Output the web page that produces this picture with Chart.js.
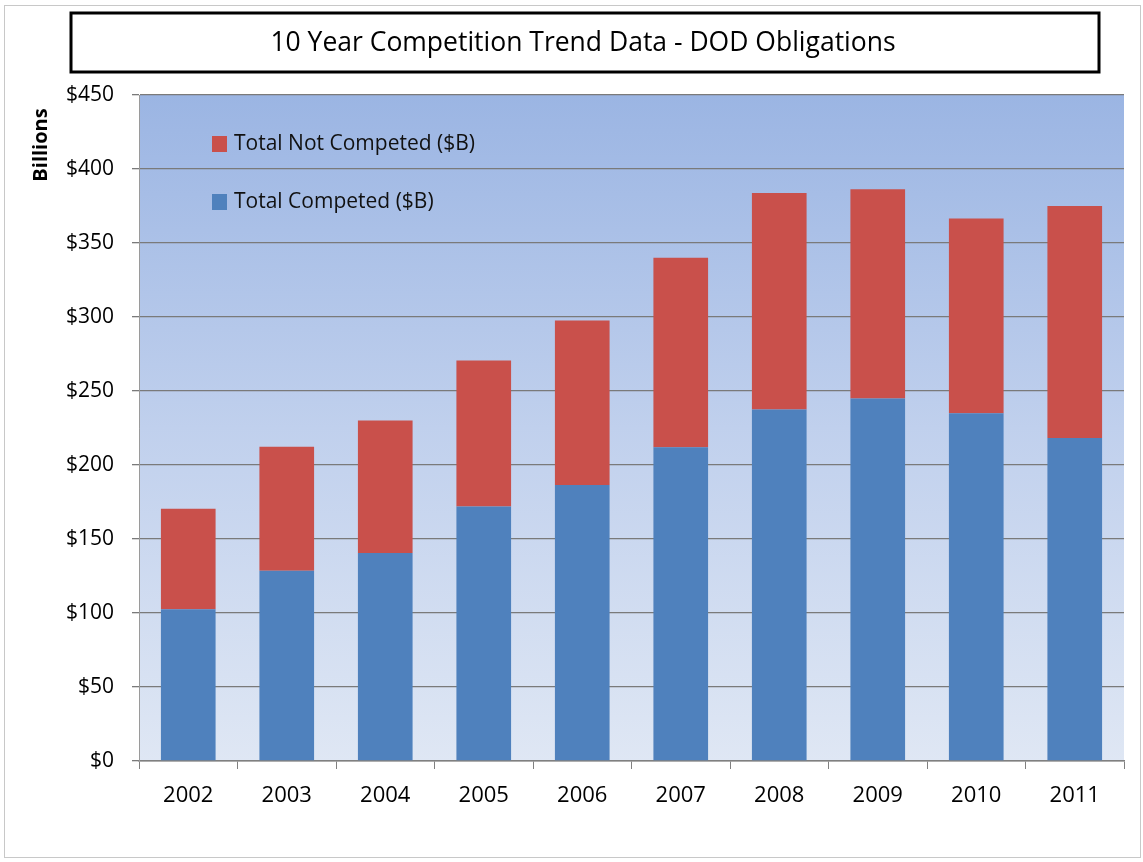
<!DOCTYPE html>
<html>
<head>
<meta charset="utf-8">
<script src="https://cdn.jsdelivr.net/npm/chart.js@4/dist/chart.umd.min.js"></script>
<style>
  html, body { margin: 0; padding: 0; background: #fff; }
  #wrap { width: 1143px; height: 862px; position: relative; }
</style>
</head>
<body>
<div id="wrap"><canvas id="c"></canvas></div>
<script>
const years = ['2002', '2003', '2004', '2005', '2006', '2007', '2008', '2009', '2010', '2011'];
const competed = [102.5, 128.6, 140.5, 172, 186.5, 212, 237.5, 245, 235, 218.3];
const notCompeted = [68, 83.8, 89.5, 98.6, 111.2, 128, 146.3, 141.3, 131.5, 156.7];
const yTicks = [0, 50, 100, 150, 200, 250, 300, 350, 400, 450];

const FONT = '"Open Sans", "Noto Sans", sans-serif';
const BLUE = '#4f81bd';
const RED = '#c9504b';

// background, outer frame and plot gradient
const backdrop = {
  id: 'backdrop',
  beforeDraw(chart) {
    const { ctx, chartArea: a, width, height } = chart;
    ctx.save();
    ctx.fillStyle = '#fff';
    ctx.fillRect(0, 0, width, height);
    ctx.strokeStyle = '#c8c8c8';
    ctx.lineWidth = 1;
    ctx.strokeRect(4.5, 5.5, width - 7, height - 10);
    const g = ctx.createLinearGradient(0, a.top, 0, a.bottom);
    g.addColorStop(0, '#9bb5e3');
    g.addColorStop(0.5, '#c0d0ed');
    g.addColorStop(1, '#dfe7f4');
    ctx.fillStyle = g;
    ctx.fillRect(a.left, a.top, a.right - a.left, a.bottom - a.top);
    ctx.restore();
  }
};

// title box, axis caption and legend
const decorations = {
  id: 'decorations',
  afterDraw(chart) {
    const { ctx, chartArea: a } = chart;
    ctx.save();
    // title box
    ctx.fillStyle = '#fff';
    ctx.fillRect(71, 13, 1028, 59);
    ctx.strokeStyle = '#000';
    ctx.lineWidth = 3;
    ctx.strokeRect(71, 13, 1028, 59);
    ctx.fillStyle = '#000';
    ctx.font = '26.5px ' + FONT;
    ctx.textAlign = 'center';
    ctx.textBaseline = 'middle';
    ctx.fillText('10 Year Competition Trend Data - DOD Obligations', 583, 43);

    // y axis caption
    ctx.save();
    ctx.translate(41, 145);
    ctx.rotate(-Math.PI / 2);
    ctx.font = 'bold 20px ' + FONT;
    ctx.fillText('Billions', 0, 0);
    ctx.restore();

    // legend
    const items = [
      { label: 'Total Not Competed ($B)', color: RED },
      { label: 'Total Competed ($B)', color: BLUE }
    ];
    ctx.font = '21px ' + FONT;
    ctx.textAlign = 'left';
    items.forEach((it, i) => {
      const cy = a.top + 49 + i * 58;
      ctx.fillStyle = it.color;
      ctx.fillRect(a.left + 73, cy - 8, 15, 16);
      ctx.fillStyle = '#111';
      ctx.fillText(it.label, a.left + 95, cy);
    });
    ctx.restore();
  }
};

new Chart(document.getElementById('c'), {
  type: 'bar',
  data: {
    labels: years,
    datasets: [
      { label: 'Total Competed ($B)', data: competed, backgroundColor: BLUE },
      { label: 'Total Not Competed ($B)', data: notCompeted, backgroundColor: RED }
    ]
  },
  options: {
    responsive: true,
    maintainAspectRatio: false,
    animation: false,
    layout: { padding: { left: 0, right: 19, top: 95, bottom: 0 } },
    plugins: { legend: { display: false }, title: { display: false }, tooltip: { enabled: false } },
    datasets: { bar: { categoryPercentage: 1, barPercentage: 0.555 } },
    scales: {
      x: {
        stacked: true,
        afterFit(scale) { scale.height = 101; },
        grid: { drawOnChartArea: false, offset: true, tickLength: 8, color: '#808080' },
        border: { color: '#808080', width: 1.5 },
        ticks: { color: '#000', font: { family: FONT, size: 22 }, padding: 14 }
      },
      y: {
        stacked: true,
        min: 0,
        max: 450,
        afterFit(scale) { scale.width = 139; },
        afterBuildTicks(scale) { scale.ticks = yTicks.map(v => ({ value: v })); },
        grid: { color: '#7a7a7a', tickLength: 7, lineWidth: 1.3 },
        border: { color: '#9a9a9a' },
        ticks: { color: '#000', font: { family: FONT, size: 21 }, padding: 18, callback: v => '$' + v }
      }
    }
  },
  plugins: [backdrop, decorations]
});
</script>
</body>
</html>
